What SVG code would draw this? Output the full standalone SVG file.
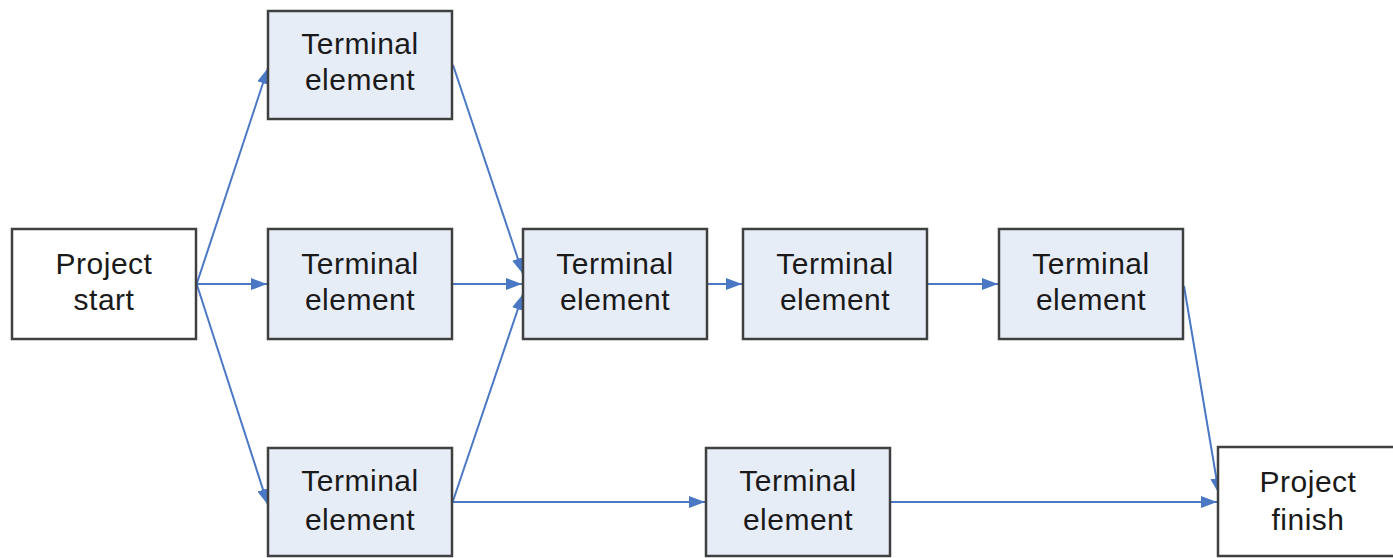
<svg xmlns="http://www.w3.org/2000/svg" width="1393" height="558" viewBox="0 0 1393 558">
<defs>
<style>
.box{stroke:#404040;stroke-width:2.5}
.term{fill:#E7EDF7}
.plain{fill:#FFFFFF}
.lbl{font-family:"Liberation Sans",Arial,sans-serif;font-size:30px;fill:#1a1a1a;text-anchor:middle;letter-spacing:0.5px}
.conn{stroke:#4A78C4;stroke-width:2;fill:none;marker-end:url(#arr)}
</style>
<marker id="arr" markerUnits="userSpaceOnUse" markerWidth="18" markerHeight="14" refX="16" refY="6" orient="auto">
<path d="M0,0 L16,6 L0,12 Z" fill="#4A78C4"/>
</marker>
</defs>
<rect width="1393" height="558" fill="#FFFFFF"/>
<g id="connectors">
<line class="conn" x1="197" y1="283" x2="268" y2="68"/>
<line class="conn" x1="197" y1="284" x2="267" y2="284"/>
<line class="conn" x1="197" y1="285" x2="268" y2="505"/>
<line class="conn" x1="453" y1="65" x2="523" y2="274"/>
<line class="conn" x1="453" y1="284" x2="522" y2="284"/>
<line class="conn" x1="453" y1="501" x2="523" y2="294"/>
<line class="conn" x1="708" y1="284" x2="742" y2="284"/>
<line class="conn" x1="928" y1="284" x2="998" y2="284"/>
<line class="conn" x1="1184" y1="286" x2="1219" y2="494"/>
<line class="conn" x1="453" y1="502" x2="705" y2="502"/>
<line class="conn" x1="891" y1="502" x2="1217" y2="502"/>
</g>
<g id="project-start">
<rect class="box plain" x="12" y="229" width="184" height="110"/>
<text class="lbl" x="104" y="274">Project</text>
<text class="lbl" x="104" y="310">start</text>
</g>
<g id="terminal-1">
<rect class="box term" x="268" y="11" width="184" height="108"/>
<text class="lbl" x="360" y="54">Terminal</text>
<text class="lbl" x="360" y="90">element</text>
</g>
<g id="terminal-2">
<rect class="box term" x="268" y="229" width="184" height="110"/>
<text class="lbl" x="360" y="274">Terminal</text>
<text class="lbl" x="360" y="310">element</text>
</g>
<g id="terminal-3">
<rect class="box term" x="268" y="448" width="184" height="108"/>
<text class="lbl" x="360" y="491">Terminal</text>
<text class="lbl" x="360" y="530">element</text>
</g>
<g id="terminal-4">
<rect class="box term" x="523" y="229" width="184" height="110"/>
<text class="lbl" x="615" y="274">Terminal</text>
<text class="lbl" x="615" y="310">element</text>
</g>
<g id="terminal-5">
<rect class="box term" x="743" y="229" width="184" height="110"/>
<text class="lbl" x="835" y="274">Terminal</text>
<text class="lbl" x="835" y="310">element</text>
</g>
<g id="terminal-6">
<rect class="box term" x="999" y="229" width="184" height="110"/>
<text class="lbl" x="1091" y="274">Terminal</text>
<text class="lbl" x="1091" y="310">element</text>
</g>
<g id="terminal-7">
<rect class="box term" x="706" y="448" width="184" height="108"/>
<text class="lbl" x="798" y="491">Terminal</text>
<text class="lbl" x="798" y="530">element</text>
</g>
<g id="project-finish">
<rect class="box plain" x="1218" y="447" width="184" height="109"/>
<text class="lbl" x="1308" y="492">Project</text>
<text class="lbl" x="1308" y="530">finish</text>
</g>
</svg>
